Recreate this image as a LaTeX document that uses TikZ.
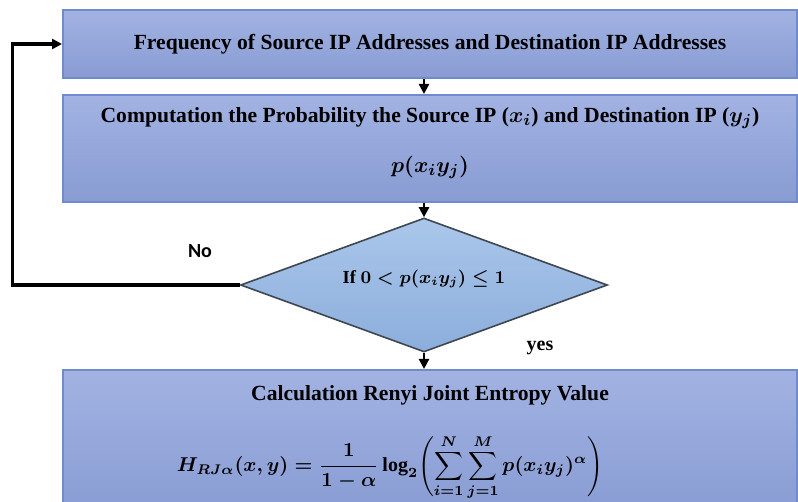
\documentclass[tikz,border=0pt]{standalone}
\usepackage{amsmath,amssymb,bm}
\usepackage{fontspec}
\setmainfont{Liberation Serif}
\newfontfamily\labelsans{Carlito}
\usepackage{xcolor}
\usepackage{tikz}
\usetikzlibrary{shapes.geometric, arrows.meta, positioning, calc}
\definecolor{boxtop}{HTML}{A2B2E2}
\definecolor{boxbot}{HTML}{889CD3}
\definecolor{boxline}{HTML}{6F8BCB}
\definecolor{dectop}{HTML}{AAC6EA}
\definecolor{decbot}{HTML}{8CAEDC}
\definecolor{decline}{HTML}{3E4650}

\begin{document}
\begin{tikzpicture}[x=0.5pt, y=-0.5pt,
    stepbox/.style={draw=boxline, line width=1pt, top color=boxtop, bottom color=boxbot,
        minimum width=367pt, inner sep=0pt, align=center,
        font=\fontsize{10.8}{13}\selectfont\bfseries\boldmath},
    decbox/.style={diamond, shape aspect=2.74, draw=decline, line width=0.8pt,
        top color=dectop, bottom color=decbot,
        minimum width=183.5pt, minimum height=67pt, inner sep=0pt,
        font=\fontsize{9.2}{11}\selectfont\bfseries\boldmath},
    arr/.style={-{Triangle[length=5pt, width=5pt]}, line width=1.2pt, black}]
    \useasboundingbox (0,0) rectangle (798,502);

    % Boxes
    \node[stepbox, minimum height=34pt] (freq) at (430,44)
        {Frequency of Source IP Addresses and Destination IP Addresses};
    \node[stepbox, minimum height=53.5pt] (prob) at (430,148.5)
        {Computation the Probability the Source IP ($x_i$) and Destination IP ($y_j$)\\[12pt]
         $p(x_i y_j)$\rule[-8.5pt]{0pt}{0pt}};
    \node[decbox] (dec) at (424,285) {If $0 < p(x_i y_j) \leq 1$\rule[-8pt]{0pt}{0pt}};
    \node[stepbox, minimum height=73pt] (renyi) at (430,443)
        {Calculation Renyi Joint Entropy Value\\[14pt]
         {\fontsize{10}{12}\selectfont$\displaystyle H_{RJ\alpha}(x,y) = \frac{1}{1-\alpha}\log_2\Biggl(\sum_{i=1}^{N}\sum_{j=1}^{M} p(x_i y_j)^{\alpha}\Biggr)$}\hspace*{40pt}};

    % Flow
    \draw[arr] (dec |- freq.south) -- (dec |- prob.north);
    \draw[arr] (dec |- prob.south) -- (dec.north);
    \draw[arr] (dec.south) -- (dec |- renyi.north);

    % Loop back
    \draw[arr, line width=1.6pt] (dec.west) -- ++(-227,0) |- (freq.west);

    % Labels
    \node[font=\labelsans\bfseries] (no) at (200,251) {No};
    \node[font=\bfseries] (yes) at (540,348) {yes};
\end{tikzpicture}
\end{document}
